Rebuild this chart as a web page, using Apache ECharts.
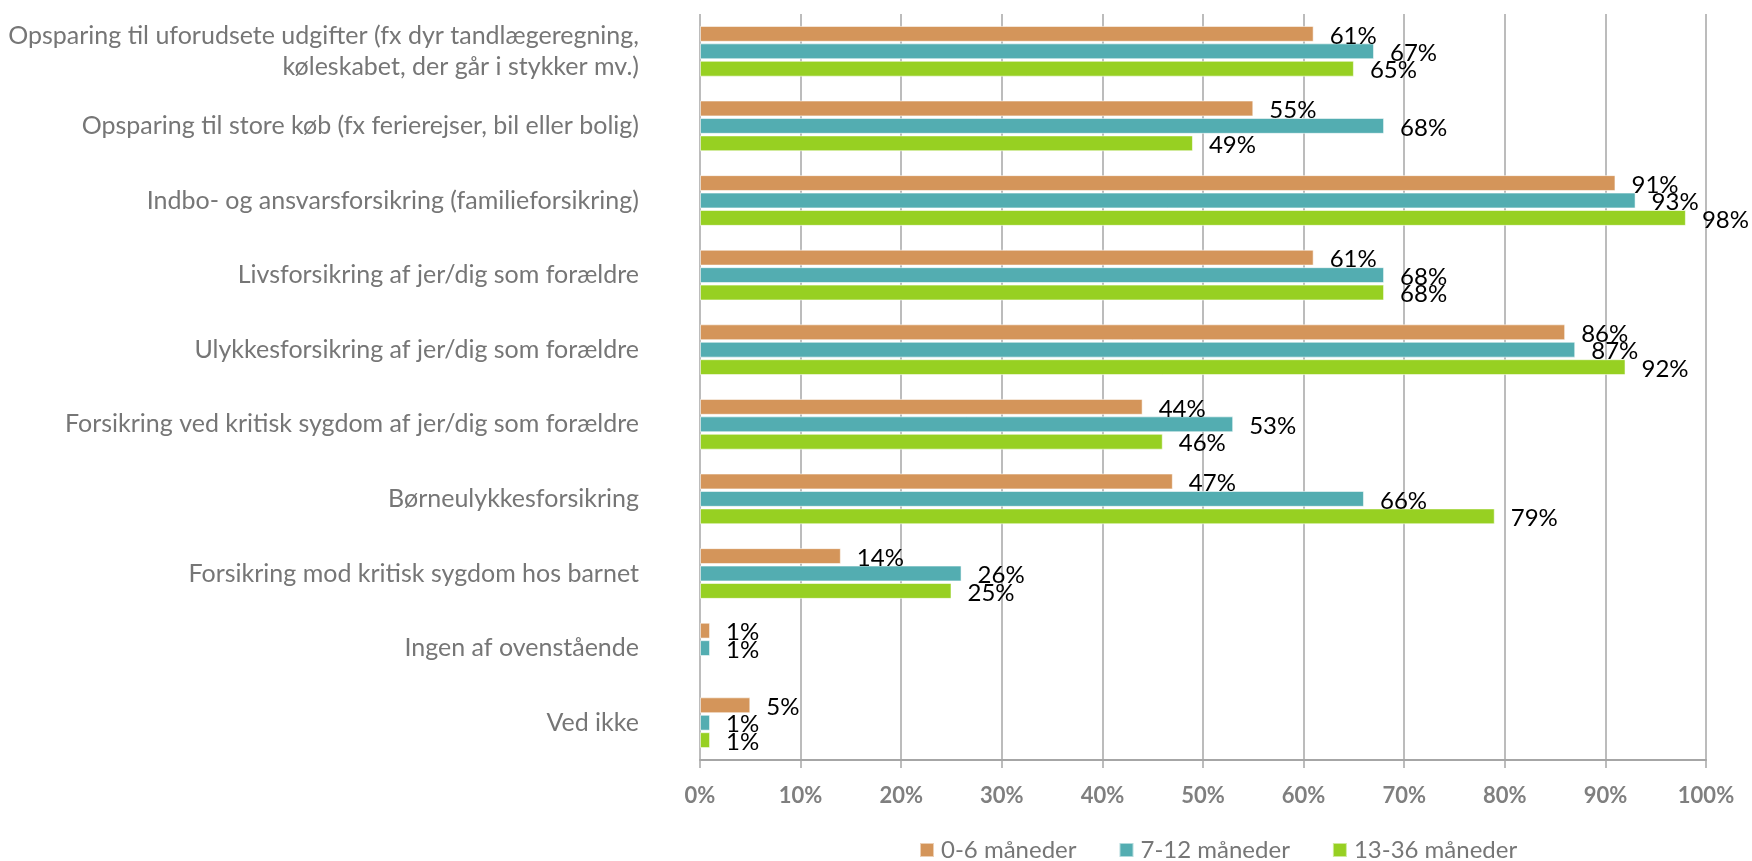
<!DOCTYPE html>
<html>
<head>
<meta charset="utf-8">
<script src="https://cdn.jsdelivr.net/npm/echarts@6/dist/echarts.min.js"></script>
<style>html,body{margin:0;padding:0;background:#fff}#c{width:1752px;height:861px}</style>
</head>
<body>
<div id="c"></div>
<script>
const categories = [
  "Opsparing til uforudsete udgifter (fx dyr tandlægeregning,\nkøleskabet, der går i stykker mv.)",
  "Opsparing til store køb (fx ferierejser, bil eller bolig)",
  "Indbo- og ansvarsforsikring (familieforsikring)",
  "Livsforsikring af jer/dig som forældre",
  "Ulykkesforsikring af jer/dig som forældre",
  "Forsikring ved kritisk sygdom af jer/dig som forældre",
  "Børneulykkesforsikring",
  "Forsikring mod kritisk sygdom hos barnet",
  "Ingen af ovenstående",
  "Ved ikke"
];
const seriesNames = ["0-6 måneder", "7-12 måneder", "13-36 måneder"];
const months0to6 = [61, 55, 91, 61, 86, 44, 47, 14, 1, 5];
const months7to12 = [67, 68, 93, 68, 87, 53, 66, 26, 1, 1];
const months13to36 = [65, 49, 98, 68, 92, 46, 79, 25, null, 1];
const xTicks = [0, 10, 20, 30, 40, 50, 60, 70, 80, 90, 100];
const colors = ["#D4955A", "#53ADB1", "#97D022"];

const font = "Lato, 'Open Sans', sans-serif";
const chart = echarts.init(document.getElementById('c'));
function mk(name, data, color) {
  return {
    name: name, type: 'bar', data: data,
    barCategoryGap: '32%', barGap: '10%',
    itemStyle: { color: color, borderColor: 'rgba(255,255,255,0.55)', borderWidth: 1 },
    label: {
      show: true, position: 'right', distance: 16, offset: [0, 2],
      formatter: p => p.value == null ? '' : p.value + '%',
      color: '#000', fontSize: 24, fontFamily: font
    }
  };
}
chart.setOption({
  animation: false,
  color: colors,
  grid: { left: 700, right: 46, top: 14, bottom: 101, containLabel: false },
  xAxis: {
    type: 'value', min: xTicks[0], max: xTicks[xTicks.length - 1], interval: 10,
    axisLabel: { formatter: '{value}%', color: '#7F7F7F', fontWeight: 'bold', fontSize: 22, fontFamily: font, margin: 25 },
    splitLine: { show: true, lineStyle: { color: '#A6A6A6', width: 1.5 } },
    axisLine: { show: true, lineStyle: { color: '#A6A6A6', width: 2 } },
    axisTick: { show: true, length: 8, lineStyle: { color: '#A6A6A6', width: 1.5 } }
  },
  yAxis: {
    type: 'category', data: categories, inverse: true,
    axisLabel: { color: '#767676', fontSize: 25, fontFamily: font, margin: 61, lineHeight: 31, align: 'right' },
    axisLine: { show: false },
    axisTick: { show: false }
  },
  legend: {
    top: 833, left: 914, itemWidth: 14, itemHeight: 14, itemGap: 42,
    textStyle: { color: '#767676', fontSize: 24, fontFamily: font, padding: [0, 0, 0, 2] },
    icon: 'rect',
    data: seriesNames
  },
  series: [
    mk(seriesNames[0], months0to6, colors[0]),
    mk(seriesNames[1], months7to12, colors[1]),
    mk(seriesNames[2], months13to36, colors[2])
  ]
});
</script>
</body>
</html>
